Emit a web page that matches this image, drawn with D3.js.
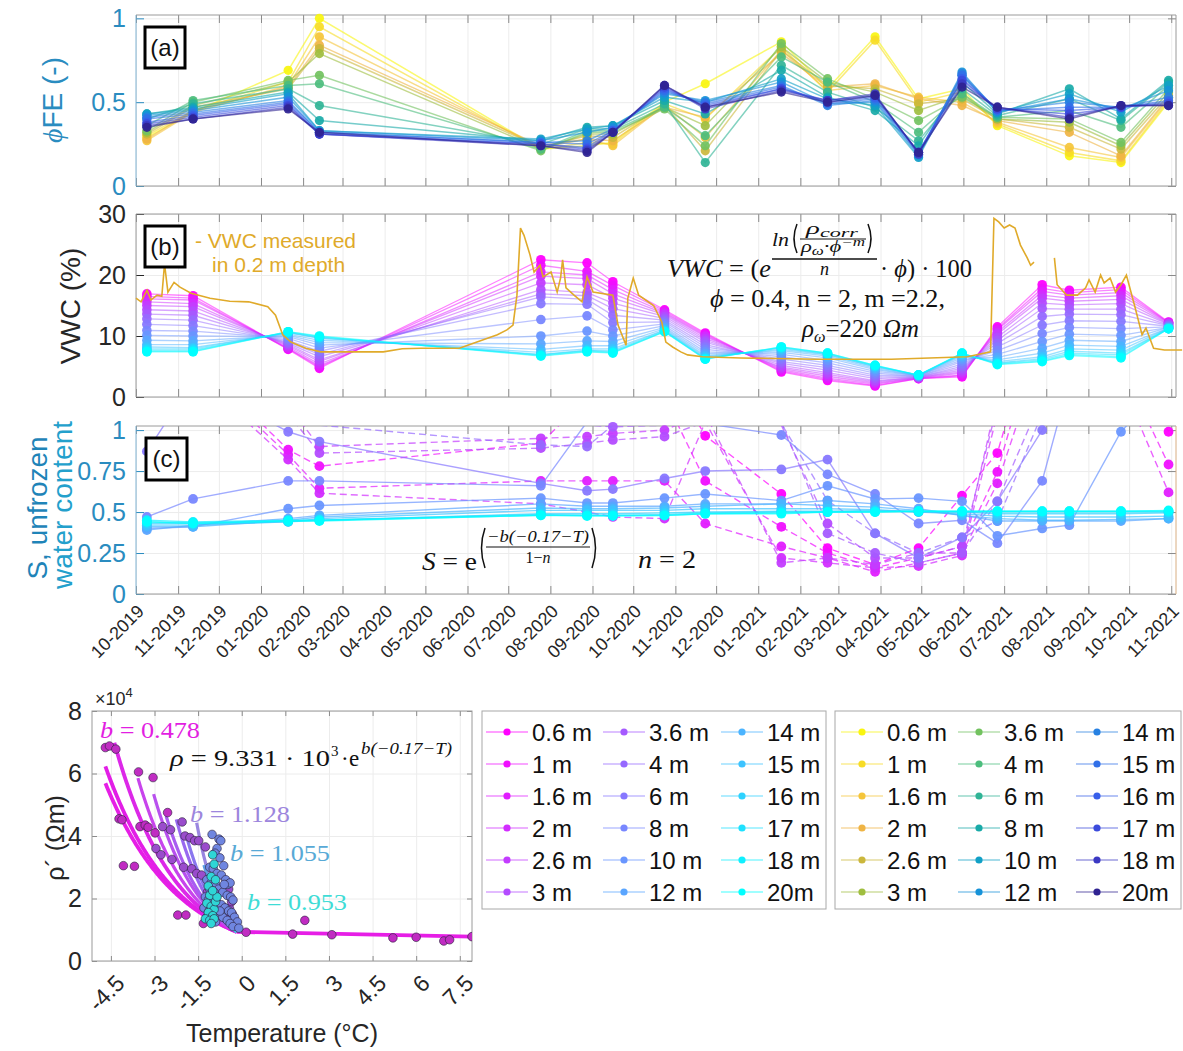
<!DOCTYPE html>
<html>
<head>
<meta charset="utf-8">
<script src="https://cdn.jsdelivr.net/npm/d3@7/dist/d3.min.js"></script>
<style>
  html, body { margin: 0; padding: 0; background: #ffffff; }
  svg { display: block; }
</style>
</head>
<body>
<svg id="figure" width="1183" height="1051"></svg>
<script>
// ---------------- depths and colour tables ----------------
const depthLabels = ['0.6 m','1 m','1.6 m','2 m','2.6 m','3 m','3.6 m','4 m','6 m','8 m','10 m','12 m','14 m','15 m','16 m','17 m','18 m','20m'];
const parulaColors = ['#f9f50f','#f7dc25','#f5c53a','#efb444','#cbb73c','#9fbe3f','#72c25f','#4cbd7d','#30b496','#19aaa8','#11a0c6','#1692d8','#2781e2','#3170e8','#385fea','#3b4bdc','#3b39c3','#2f2391'];
const coolColors = depthLabels.map((_, i) => {
  const t = 1 - i / (depthLabels.length - 1);
  return d3.rgb(255 * t, 255 * (1 - t), 255).formatHex();
});

// ---------------- survey dates ----------------
const surveyDates = ['2019-10-09','2019-11-12','2020-01-21','2020-02-13','2020-07-25','2020-08-28','2020-09-16','2020-10-24','2020-11-23','2021-01-18','2021-02-21','2021-03-28','2021-04-29','2021-05-31','2021-06-26','2021-07-29','2021-08-18','2021-09-25','2021-10-30'];
const phiDates = ['2019-10-09','2019-11-12','2020-01-21','2020-02-13','2020-07-25','2020-08-28','2020-09-16','2020-10-24','2020-11-23','2021-01-18','2021-02-21','2021-03-28','2021-04-29','2021-05-31','2021-06-26','2021-08-18','2021-09-25','2021-10-30'];
const monthTickLabels = ['10-2019','11-2019','12-2019','01-2020','02-2020','03-2020','04-2020','05-2020','06-2020','07-2020','08-2020','09-2020','10-2020','11-2020','12-2020','01-2021','02-2021','03-2021','04-2021','05-2021','06-2021','07-2021','08-2021','09-2021','10-2021','11-2021'];

// (a) formation factor porosity, one row per survey, one column per depth
const phiFEBySurvey = [
  [0.29,0.30,0.27,0.28,0.31,0.32,0.33,0.36,0.40,0.43,0.43,0.42,0.41,0.40,0.38,0.37,0.36,0.35],
  [0.44,0.45,0.44,0.45,0.47,0.48,0.50,0.51,0.49,0.47,0.46,0.45,0.44,0.43,0.42,0.41,0.40,0.40],
  [0.69,0.62,0.60,0.59,0.58,0.62,0.63,0.60,0.58,0.56,0.55,0.53,0.51,0.50,0.49,0.48,0.47,0.46],
  [1.00,0.95,0.89,0.84,0.82,0.79,0.66,0.61,0.48,0.39,0.33,0.33,0.32,0.32,0.31,0.31,0.31,0.32],
  [0.22,0.22,0.23,0.24,0.23,0.22,0.21,0.22,0.25,0.27,0.28,0.27,0.26,0.26,0.25,0.25,0.24,0.24],
  [0.24,0.26,0.28,0.28,0.30,0.31,0.32,0.33,0.34,0.35,0.34,0.32,0.27,0.25,0.23,0.22,0.21,0.20],
  [0.26,0.25,0.24,0.27,0.29,0.31,0.32,0.33,0.34,0.36,0.36,0.35,0.34,0.33,0.33,0.32,0.32,0.32],
  [0.50,0.49,0.48,0.47,0.48,0.47,0.46,0.47,0.49,0.51,0.53,0.55,0.56,0.57,0.58,0.59,0.60,0.60],
  [0.61,0.40,0.29,0.41,0.21,0.36,0.24,0.30,0.14,0.43,0.50,0.51,0.50,0.49,0.48,0.47,0.46,0.47],
  [0.86,0.83,0.81,0.79,0.81,0.83,0.85,0.77,0.72,0.69,0.64,0.62,0.60,0.59,0.58,0.58,0.57,0.56],
  [0.58,0.56,0.57,0.59,0.60,0.62,0.64,0.62,0.56,0.53,0.52,0.49,0.48,0.49,0.50,0.51,0.51,0.50],
  [0.89,0.87,0.60,0.61,0.58,0.56,0.52,0.50,0.47,0.45,0.48,0.50,0.51,0.52,0.53,0.54,0.55,0.54],
  [0.52,0.50,0.53,0.52,0.49,0.45,0.39,0.32,0.27,0.24,0.17,0.18,0.19,0.20,0.20,0.20,0.19,0.20],
  [0.58,0.56,0.50,0.48,0.52,0.54,0.53,0.55,0.58,0.62,0.66,0.68,0.67,0.66,0.64,0.63,0.61,0.59],
  [0.36,0.37,0.38,0.39,0.40,0.40,0.41,0.41,0.42,0.43,0.44,0.44,0.45,0.45,0.46,0.46,0.47,0.47],
  [0.18,0.20,0.23,0.32,0.35,0.38,0.40,0.45,0.52,0.58,0.55,0.52,0.50,0.47,0.45,0.43,0.41,0.40],
  [0.14,0.15,0.17,0.18,0.22,0.24,0.26,0.35,0.39,0.40,0.44,0.46,0.47,0.47,0.47,0.47,0.48,0.48],
  [0.50,0.51,0.52,0.53,0.54,0.56,0.58,0.60,0.62,0.63,0.60,0.57,0.53,0.51,0.50,0.49,0.48,0.48]
];

// (b) modelled VWC in %, one row per survey, one column per depth
const vwcBySurvey = [
  [16.9,16.5,16.1,15.6,15.0,14.3,13.6,12.8,11.9,10.9,10.1,9.3,8.6,8.2,7.9,7.7,7.5,7.4],
  [16.6,16.2,15.9,15.3,14.8,14.1,13.4,12.6,11.7,10.8,10.0,9.2,8.6,8.1,7.9,7.7,7.5,7.4],
  [7.8,7.9,8.0,8.2,8.4,8.6,8.8,9.0,9.3,9.6,9.9,10.1,10.3,10.5,10.6,10.6,10.7,10.7],
  [4.7,4.9,5.1,5.4,5.8,6.1,6.6,7.0,7.5,8.0,8.5,8.9,9.3,9.6,9.7,9.8,9.9,10.0],
  [22.5,21.6,20.5,19.8,18.7,17.6,16.9,16.4,15.3,12.7,10.0,8.7,7.8,7.3,7.0,6.9,6.8,6.7],
  [22.0,20.6,20.0,19.4,18.4,17.1,16.6,16.0,15.2,13.3,10.8,9.2,8.4,7.9,7.7,7.6,7.5,7.4],
  [18.9,18.3,17.6,16.9,16.2,15.4,14.5,13.4,12.2,11.0,10.0,9.1,8.4,7.9,7.6,7.4,7.3,7.2],
  [14.3,14.1,13.9,13.7,13.5,13.2,12.9,12.6,12.3,12.0,11.7,11.4,11.2,11.0,10.9,10.8,10.7,10.7],
  [10.5,10.3,10.1,9.9,9.6,9.3,9.0,8.6,8.2,7.8,7.4,7.1,6.8,6.6,6.4,6.3,6.2,6.2],
  [4.1,4.3,4.5,4.7,4.9,5.2,5.5,5.8,6.2,6.6,7.0,7.3,7.6,7.8,8.0,8.1,8.2,8.2],
  [2.7,2.9,3.1,3.4,3.7,4.0,4.4,4.8,5.2,5.6,6.0,6.4,6.7,6.9,7.0,7.1,7.2,7.2],
  [1.8,1.9,2.1,2.3,2.5,2.7,3.0,3.3,3.6,3.9,4.2,4.5,4.7,4.9,5.0,5.1,5.2,5.2],
  [3.0,3.0,3.1,3.1,3.2,3.2,3.3,3.3,3.4,3.4,3.5,3.5,3.5,3.6,3.6,3.6,3.6,3.6],
  [3.3,3.5,3.6,3.9,4.1,4.4,4.7,5.0,5.4,5.8,6.1,6.4,6.7,6.9,7.0,7.1,7.2,7.2],
  [11.5,11.2,11.0,10.6,10.3,9.8,9.3,8.8,8.2,7.6,7.0,6.5,6.1,5.8,5.6,5.5,5.4,5.3],
  [18.4,17.8,17.3,16.7,16.2,15.4,14.5,13.2,11.8,10.4,9.1,8.0,7.2,6.6,6.3,6.1,5.9,5.8],
  [17.5,17.1,16.7,16.2,15.7,15.1,14.4,13.6,12.5,11.4,10.3,9.3,8.5,7.9,7.5,7.2,7.0,6.8],
  [18.0,17.6,17.1,16.6,16.0,15.3,14.4,13.5,12.4,11.2,10.1,9.1,8.3,7.7,7.2,6.9,6.6,6.4],
  [12.3,12.2,12.2,12.1,12.0,11.9,11.8,11.7,11.6,11.5,11.4,11.4,11.3,11.3,11.2,11.2,11.2,11.2]
];

// (b) VWC sensor at 0.2 m: days after 2019-10-01 and reading in %
const vwcDayOffsets = [0,3.7,8.1,11,15.5,19,21,23.5,28,32.4,40.5,54.5,69,83,97,102.7,108,114,119.6,125,136,153,182,196,210,238,266,273,277.5,280.4,283,285.6,290,293,297.4,299.6,305.5,310,312.5,314,316.5,322.4,328.3,332,336.4,351,354.8,360.7,362,366,370,381,387,390,395,401,406,417,445,501,556,612,629,631.5,635,639,643,647,651,656,658.5,661,668,676,678,685,693,699,701.5,706,710,712.6,717,721,725,729,735,740.5,743.4,749,757,770];
const vwcMeasured = [16.2,15.6,17.5,15.9,16.7,16.5,21.8,17.2,18.8,18.0,17.0,16.2,15.7,15.6,14.8,13.4,10.2,9.0,8.5,8.0,7.4,7.4,7.4,7.9,8.0,8.0,10.2,11.0,11.8,16.7,27.7,26.5,23.3,20.5,21.6,19.7,20.5,17.2,19.5,22.5,17.9,16.7,15.6,19.7,17.2,16.7,11.8,8.5,16.2,19.5,16.7,15.0,12.3,9.0,8.2,7.4,6.9,6.6,6.4,6.2,6.2,6.6,7.4,29.3,28.7,27.7,28.2,27.7,24.9,22.8,21.6,22.1,null,22.8,18.4,16.7,16.7,17.9,19.2,17.2,20.0,18.7,19.5,17.2,18.4,20.0,15.0,10.2,11.3,8.0,7.7,7.7];

// (c) unfrozen water content S, one row per depth, one column per survey
const unfrozenByDepth = [
  [1.6,1.5,1.3,1.2,1.4,1.5,1.5,1.4,0.965,0.61,0.28,0.18,0.28,0.60,0.86,1.8,1.7,1.5,0.99],
  [1.5,1.45,0.88,0.78,0.92,1.2,1.3,1.2,0.69,0.41,0.25,0.16,0.22,0.29,0.745,1.7,1.6,1.4,0.79],
  [1.45,1.4,0.85,0.645,0.69,0.69,0.69,0.69,0.43,0.29,0.22,0.135,0.19,0.25,0.675,1.5,1.4,1.3,0.62],
  [1.4,1.35,0.82,0.615,0.55,0.50,0.47,0.46,1.05,0.22,0.19,0.16,0.17,0.235,1.1,1.4,1.3,1.2,1.1],
  [1.35,1.3,1.15,0.90,0.95,0.96,0.98,1.0,1.1,0.19,0.22,0.18,0.25,0.25,1.2,1.3,1.25,1.15,1.05],
  [1.3,1.25,1.1,0.86,0.89,0.92,0.94,0.96,1.05,1.03,0.43,0.22,0.22,0.29,1.15,1.25,1.2,1.1,1.04],
  [1.25,1.2,1.06,1.05,1.03,1.03,1.02,1.03,1.04,1.05,0.37,0.25,0.19,0.25,0.565,1.2,1.15,1.1,1.05],
  [1.2,1.15,1.04,1.03,0.91,0.90,1.03,1.03,1.04,1.04,0.57,0.37,0.25,0.345,0.445,1.1,1.1,1.05,1.03],
  [0.87,1.3,0.99,0.93,0.675,0.63,0.64,0.705,0.75,0.76,0.82,0.37,0.22,0.345,0.565,1.0,1.3,1.5,1.6],
  [0.47,0.58,0.69,0.69,0.66,1.05,1.1,1.08,1.04,0.97,0.73,0.61,0.43,0.45,0.31,0.69,1.3,1.5,1.5],
  [0.40,0.41,0.52,0.54,0.585,0.555,0.555,0.585,0.61,0.57,0.66,0.58,0.585,0.565,0.355,0.40,0.42,0.99,1.3],
  [0.39,0.42,0.46,0.48,0.55,0.535,0.535,0.535,0.55,0.55,0.57,0.55,0.52,0.48,0.445,0.445,0.445,0.445,0.46],
  [0.41,0.41,0.45,0.47,0.525,0.52,0.52,0.525,0.535,0.55,0.54,0.53,0.51,0.48,0.46,0.45,0.45,0.455,0.46],
  [0.42,0.42,0.44,0.46,0.51,0.51,0.51,0.51,0.52,0.52,0.52,0.515,0.50,0.49,0.475,0.47,0.47,0.47,0.475],
  [0.43,0.43,0.44,0.45,0.49,0.49,0.49,0.495,0.50,0.505,0.505,0.51,0.50,0.50,0.49,0.49,0.49,0.49,0.495],
  [0.44,0.435,0.445,0.45,0.485,0.48,0.48,0.485,0.495,0.50,0.50,0.505,0.505,0.50,0.50,0.50,0.50,0.50,0.50],
  [0.45,0.44,0.45,0.45,0.48,0.48,0.48,0.48,0.49,0.495,0.50,0.50,0.505,0.505,0.505,0.505,0.505,0.505,0.505],
  [0.44,0.43,0.445,0.445,0.48,0.475,0.475,0.478,0.49,0.49,0.50,0.50,0.505,0.505,0.505,0.505,0.505,0.505,0.51]
];
const dashedDepthCount = 8;

// (d) resistivity vs temperature: [T (°C), rho (x1e4 Ohm m)]
const rhoShallow = [[-4.69,6.83],[-4.55,6.88],[-4.33,6.78],[-4.22,4.55],[-4.12,4.52],[-4.07,3.05],[-3.69,3.03],[-3.55,6.05],[-3.5,4.3],[-3.32,4.35],[-3.22,4.28],[-3.05,5.87],[-2.98,4.1],[-2.55,4.75],[-2.2,1.47],[-1.92,1.47],[-1.32,1.2],[0.15,0.92],[1.75,0.86],[2.17,1.3],[3.1,0.84],[5.2,0.74],[6.0,0.76],[6.95,0.64],[7.15,0.68],[7.92,0.78]];
const rhoMid = [[-2.95,3.6],[-2.78,3.4],[-2.72,4.3],[-2.45,4.2],[-2.4,3.25],[-2.05,4.45],[-2.0,3.0],[-1.95,4.0],[-1.78,3.95],[-1.62,3.85],[-1.48,3.85],[-1.72,2.95],[-1.55,2.8],[-1.38,2.75],[-1.25,3.65],[-1.18,2.2],[-0.62,1.72],[-0.42,1.68],[-0.32,1.5],[-0.55,1.35],[-0.45,2.3],[-0.35,1.9],[-0.2,1.15],[-1.05,1.7]];
const rhoDeep = [[-1.02,4.05],[-0.78,3.9],[-0.72,3.85],[-0.85,3.6],[-0.92,3.45],[-0.75,3.3],[-0.62,3.05],[-1.1,3.0],[-0.98,2.95],[-0.85,2.8],[-0.7,2.75],[-0.55,2.6],[-0.48,2.45],[-0.4,2.5],[-1.2,2.6],[-1.05,2.5],[-0.9,2.45],[-0.8,2.3],[-0.65,2.2],[-0.5,2.1],[-0.38,2.05],[-0.3,1.95],[-1.25,2.05],[-1.15,1.95],[-1.0,1.9],[-0.85,1.85],[-0.7,1.8],[-0.58,1.7],[-0.45,1.6],[-0.35,1.55],[-0.25,1.4],[-0.15,1.25],[-1.3,1.7],[-1.12,1.6],[-0.95,1.55],[-0.8,1.5],[-0.65,1.4],[-0.5,1.3],[-0.4,1.2],[-0.3,1.1],[-0.1,1.05],[-1.2,1.4],[-1.05,1.3],[-0.9,1.25],[-0.75,1.6],[-0.6,2.45],[-0.95,2.2],[-1.1,2.3]];
const rhoDeepest = [[-1.0,3.4],[-0.95,3.1],[-1.05,2.7],[-1.15,2.4],[-1.1,2.1],[-1.2,1.85],[-1.05,1.75],[-0.95,1.65],[-1.15,1.55],[-1.0,1.45],[-1.25,1.35],[-1.1,1.3],[-0.95,1.35],[-1.05,1.2],[-0.9,1.9],[-0.85,2.05],[-1.0,2.25],[-0.9,2.6]];

// exponential fits rho = 9.331e3 * exp(b(-0.17 - T)), fitted below -0.17 °C
const fitRho0 = 0.9331;          // x1e4 Ohm m
const fitB = [0.40,0.42,0.478,0.54,0.61,0.66,0.76,0.84,1.128,1.055,1.0,0.953];
const fitTmin = [-4.69,-4.69,-4.38,-3.57,-3.03,-2.6,-2.25,-1.9,-1.55,-1.3,-1.15,-1.05];
const warmBranch = [[-0.17,0.933],[7.92,0.78]];
const tempTicks = [-4.5,-3,-1.5,0,1.5,3,4.5,6,7.5];
const rhoTicks = [0,2,4,6,8];

// ---------------- styling ----------------
const SANS = 'Arial, "Liberation Sans", Helvetica, sans-serif';
const SERIF = '"Liberation Serif", "DejaVu Serif", "Times New Roman", serif';
const INK = '#262626';
const AXIS_GRAY = '#9a9a9a';
const GRID = '#ececec';
const BLUE_LABEL = '#2a8cc0';
const GOLD = '#e0aa2a';
const fitColors = ['#e61ee6','#e21ee6','#dc28e8','#c844ec','#b850ee','#a85cf0','#9868f0','#8a76ee','#9a86e0','#5e9ee6','#45c4ea','#34e0e0'];

const svg = d3.select('#figure');
const defs = svg.append('defs');

// ---------------- time axis shared by panels a-c ----------------
const parseDay = d3.utcParse('%Y-%m-%d');
const parseMonth = d3.utcParse('%m-%Y');
const tStart = parseDay('2019-10-01');
const tEnd = new Date(Date.UTC(2021, 10, 4, 12));
const x = d3.scaleUtc().domain([tStart, tEnd]).range([136, 1176]);
const monthTicks = monthTickLabels.map(parseMonth);
const dayMs = 864e5;

const panelA = { top: 15, bottom: 186, y: d3.scaleLinear().domain([0, 1.02]).range([186, 15]) };
const panelB = { top: 214, bottom: 397, y: d3.scaleLinear().domain([0, 30]).range([397, 214]) };
const panelC = { top: 426, bottom: 594, y: d3.scaleLinear().domain([0, 1.025]).range([594, 426]) };

function cleanAxis(sel, lineColor) {
  sel.select('.domain').remove();
  sel.selectAll('.tick line').attr('stroke', lineColor);
}

function timePanel(p, yTicks, labelColor, clipId, rightColor) {
  const g = svg.append('g');
  g.append('g').attr('transform', `translate(0,${p.bottom})`)
    .call(d3.axisBottom(x).tickValues(monthTicks).tickSize(-(p.bottom - p.top)).tickFormat(''))
    .call(s => cleanAxis(s, GRID));
  g.append('g').attr('transform', 'translate(136,0)')
    .call(d3.axisLeft(p.y).tickValues(yTicks).tickSize(-1040).tickFormat(''))
    .call(s => cleanAxis(s, GRID));
  g.append('g').attr('transform', `translate(0,${p.bottom})`)
    .call(d3.axisBottom(x).tickValues(monthTicks).tickSize(-8).tickFormat(''))
    .call(s => cleanAxis(s, '#8a8a8a'));
  g.append('g').attr('transform', `translate(0,${p.top})`)
    .call(d3.axisTop(x).tickValues(monthTicks).tickSize(-8).tickFormat(''))
    .call(s => cleanAxis(s, '#8a8a8a'));
  const yl = g.append('g').attr('transform', 'translate(136,0)')
    .call(d3.axisLeft(p.y).tickValues(yTicks).tickSize(-8).tickPadding(10).tickFormat(d => String(d)));
  cleanAxis(yl, labelColor);
  yl.selectAll('.tick text').attr('fill', labelColor).attr('font-family', SANS).attr('font-size', 25);
  g.append('g').attr('transform', 'translate(1176,0)')
    .call(d3.axisRight(p.y).tickValues(yTicks).tickSize(-8).tickFormat(''))
    .call(s => cleanAxis(s, '#8a8a8a'));
  g.append('line').attr('x1', 136).attr('x2', 1176).attr('y1', p.top).attr('y2', p.top).attr('stroke', AXIS_GRAY);
  g.append('line').attr('x1', 136).attr('x2', 1176).attr('y1', p.bottom).attr('y2', p.bottom).attr('stroke', AXIS_GRAY);
  g.append('line').attr('x1', 136).attr('x2', 136).attr('y1', p.top).attr('y2', p.bottom).attr('stroke', labelColor === INK ? AXIS_GRAY : '#7fb2d2');
  g.append('line').attr('x1', 1176).attr('x2', 1176).attr('y1', p.top).attr('y2', p.bottom).attr('stroke', rightColor || AXIS_GRAY);
  defs.append('clipPath').attr('id', clipId).append('rect')
    .attr('x', 136).attr('y', p.top).attr('width', 1040).attr('height', p.bottom - p.top);
  return g;
}

function panelTag(label, bx, by, bw, bh) {
  svg.append('rect').attr('x', bx).attr('y', by).attr('width', bw).attr('height', bh)
    .attr('fill', '#fff').attr('stroke', '#000').attr('stroke-width', 3);
  svg.append('text').attr('x', bx + bw / 2).attr('y', by + bh / 2).attr('dy', '0.35em')
    .attr('text-anchor', 'middle').attr('font-family', SANS).attr('font-size', 24).attr('fill', '#111').text(label);
}

function depthSeries(p, dates, valueAt, colors, clipId, opts) {
  const layer = svg.append('g');
  const line = d3.line().x(d => x(d[0])).y(d => p.y(d[1]));
  const [lo, hi] = p.y.domain();
  depthLabels.forEach((_, i) => {
    const pts = dates.map((ds, j) => [parseDay(ds), valueAt(i, j)]);
    layer.append('path').attr('d', line(pts)).attr('fill', 'none')
      .attr('clip-path', `url(#${clipId})`)
      .attr('stroke', colors[i]).attr('stroke-opacity', opts.lineOpacity)
      .attr('stroke-width', opts.lineWidth)
      .attr('stroke-dasharray', opts.dashed && opts.dashed(i) ? '7,4' : null);
    layer.selectAll(null).data(pts.filter(d => d[1] >= lo && d[1] <= hi)).join('circle')
      .attr('cx', d => x(d[0])).attr('cy', d => p.y(d[1])).attr('r', opts.r)
      .attr('fill', colors[i]).attr('fill-opacity', opts.markerOpacity);
  });
  return layer;
}

// bracket drawn as a curved stroke (used for the tall parentheses in formulas)
function paren(g, xEdge, y0, y1, bulge) {
  const mid = (y0 + y1) / 2;
  g.append('path').attr('d', `M${xEdge},${y0} Q${xEdge - bulge},${mid} ${xEdge},${y1}`)
    .attr('fill', 'none').attr('stroke', '#111').attr('stroke-width', 1.5);
}

// ---------------- panel (a) ----------------
timePanel(panelA, [0, 0.5, 1], BLUE_LABEL, 'clipA');
depthSeries(panelA, phiDates, (i, j) => phiFEBySurvey[j][i], parulaColors, 'clipA',
  { lineOpacity: 0.6, lineWidth: 1.5, r: 4.6, markerOpacity: 0.92 });
panelTag('(a)', 145, 27, 40, 41);
svg.append('text')
  .attr('transform', 'translate(62,100) rotate(-90)')
  .attr('text-anchor', 'middle').attr('font-family', SANS).attr('font-size', 28).attr('fill', BLUE_LABEL)
  .call(t => {
    t.append('tspan').attr('font-family', SERIF).attr('font-style', 'italic').text('ϕ');
    t.append('tspan').text('FE (-)');
  });

// ---------------- panel (b) ----------------
timePanel(panelB, [0, 10, 20, 30], INK, 'clipB');
depthSeries(panelB, surveyDates, (i, j) => vwcBySurvey[j][i], coolColors, 'clipB',
  { lineOpacity: 0.5, lineWidth: 1.3, r: 4.8, markerOpacity: 0.95 });
{
  const pts = vwcDayOffsets.map((d, k) => [new Date(tStart.getTime() + d * dayMs), vwcMeasured[k]]);
  svg.append('path')
    .attr('d', d3.line().defined(d => d[1] != null).x(d => x(d[0])).y(d => panelB.y(d[1]))(pts))
    .attr('fill', 'none').attr('stroke', GOLD).attr('stroke-width', 1.6);
}
panelTag('(b)', 145, 226, 40, 41);
svg.append('text').attr('x', 195).attr('y', 248).attr('font-family', SANS).attr('font-size', 21)
  .attr('fill', GOLD).text('- VWC measured');
svg.append('text').attr('x', 212).attr('y', 272).attr('font-family', SANS).attr('font-size', 21)
  .attr('fill', GOLD).text('in 0.2 m depth');
svg.append('text')
  .attr('transform', 'translate(80,306) rotate(-90)')
  .attr('text-anchor', 'middle').attr('font-family', SANS).attr('font-size', 28).attr('fill', INK)
  .text('VWC (%)');

// Archie-type relation written inside panel (b)
{
  const f = svg.append('g').attr('font-family', SERIF).attr('fill', '#111');
  f.append('text').attr('x', 667).attr('y', 277).attr('font-size', 26)
    .attr('textLength', 104).attr('lengthAdjust', 'spacingAndGlyphs')
    .call(t => {
      t.append('tspan').attr('font-style', 'italic').text('VWC');
      t.append('tspan').text(' = (');
      t.append('tspan').attr('font-style', 'italic').text('e');
    });
  f.append('text').attr('x', 772).attr('y', 246).attr('font-size', 19).attr('font-style', 'italic')
    .attr('textLength', 17).attr('lengthAdjust', 'spacingAndGlyphs').text('ln');
  paren(f, 797, 224, 253, 6);
  paren(f, 868, 224, 253, -6);
  f.append('text').attr('x', 806).attr('y', 234).attr('font-size', 17).attr('font-style', 'italic')
    .attr('textLength', 52).attr('lengthAdjust', 'spacingAndGlyphs')
    .call(t => {
      t.append('tspan').text('ρ');
      t.append('tspan').attr('font-size', 13).attr('dy', 3).text('corr');
    });
  f.append('line').attr('x1', 800).attr('x2', 866).attr('y1', 239).attr('y2', 239).attr('stroke', '#111').attr('stroke-width', 1);
  f.append('text').attr('x', 801).attr('y', 252).attr('font-size', 16).attr('font-style', 'italic')
    .attr('textLength', 64).attr('lengthAdjust', 'spacingAndGlyphs')
    .call(t => {
      t.append('tspan').text('ρ');
      t.append('tspan').attr('font-size', 12).attr('dy', 3).text('ω');
      t.append('tspan').attr('dy', -3).text('·ϕ');
      t.append('tspan').attr('font-size', 12).attr('dy', -6).text('−m');
    });
  f.append('line').attr('x1', 772).attr('x2', 877).attr('y1', 259).attr('y2', 259).attr('stroke', '#111').attr('stroke-width', 1.3);
  f.append('text').attr('x', 820).attr('y', 275).attr('font-size', 18).attr('font-style', 'italic').text('n');
  f.append('text').attr('x', 880).attr('y', 277).attr('font-size', 26)
    .attr('textLength', 92).attr('lengthAdjust', 'spacingAndGlyphs')
    .call(t => {
      t.append('tspan').text('· ');
      t.append('tspan').attr('font-style', 'italic').text('ϕ');
      t.append('tspan').text(') · 100');
    });
  f.append('text').attr('x', 710).attr('y', 307).attr('font-size', 26)
    .attr('textLength', 235).attr('lengthAdjust', 'spacingAndGlyphs')
    .call(t => {
      t.append('tspan').attr('font-style', 'italic').text('ϕ');
      t.append('tspan').text(' = 0.4, n = 2, m =2.2,');
    });
  f.append('text').attr('x', 802).attr('y', 337).attr('font-size', 26)
    .attr('textLength', 117).attr('lengthAdjust', 'spacingAndGlyphs')
    .call(t => {
      t.append('tspan').attr('font-style', 'italic').text('ρ');
      t.append('tspan').attr('font-style', 'italic').attr('font-size', 17).attr('dy', 5).text('ω');
      t.append('tspan').attr('dy', -5).text('=220 ');
      t.append('tspan').attr('font-style', 'italic').text('Ωm');
    });
}

// ---------------- panel (c) ----------------
timePanel(panelC, [0, 0.25, 0.5, 0.75, 1], BLUE_LABEL, 'clipC', '#d8ae82');
depthSeries(panelC, surveyDates, (i, j) => unfrozenByDepth[i][j], coolColors, 'clipC',
  { lineOpacity: 0.7, lineWidth: 1.4, r: 4.9, markerOpacity: 0.95, dashed: i => i < dashedDepthCount });
panelTag('(c)', 146, 438, 41, 42);
svg.append('text')
  .attr('transform', 'translate(47,508) rotate(-90)')
  .attr('text-anchor', 'middle').attr('font-family', SANS).attr('font-size', 28).attr('fill', '#1f84b8')
  .text('S, unfrozen');
svg.append('text')
  .attr('transform', 'translate(72,505) rotate(-90)')
  .attr('text-anchor', 'middle').attr('font-family', SANS).attr('font-size', 28).attr('fill', '#23a0cc')
  .text('water content');
{
  const f = svg.append('g').attr('font-family', SERIF).attr('fill', '#111');
  f.append('text').attr('x', 422).attr('y', 570).attr('font-size', 26)
    .attr('textLength', 55).attr('lengthAdjust', 'spacingAndGlyphs')
    .call(t => {
      t.append('tspan').attr('font-style', 'italic').text('S');
      t.append('tspan').text(' = e');
    });
  paren(f, 485, 528, 568, 7);
  paren(f, 592, 528, 568, -7);
  f.append('text').attr('x', 487).attr('y', 542).attr('font-size', 16).attr('font-style', 'italic')
    .attr('textLength', 102).attr('lengthAdjust', 'spacingAndGlyphs').text('−b(−0.17−T)');
  f.append('line').attr('x1', 486).attr('x2', 590).attr('y1', 547).attr('y2', 547).attr('stroke', '#111').attr('stroke-width', 1.1);
  f.append('text').attr('x', 538).attr('y', 563).attr('font-size', 16).attr('text-anchor', 'middle')
    .call(t => {
      t.append('tspan').text('1−');
      t.append('tspan').attr('font-style', 'italic').text('n');
    });
  f.append('text').attr('x', 638).attr('y', 568).attr('font-size', 26)
    .attr('textLength', 58).attr('lengthAdjust', 'spacingAndGlyphs')
    .call(t => {
      t.append('tspan').attr('font-style', 'italic').text('n');
      t.append('tspan').text(' = 2');
    });
}

// month labels under panel (c)
{
  const ax = svg.append('g').attr('transform', `translate(0,${panelC.bottom})`)
    .call(d3.axisBottom(x).tickValues(monthTicks).tickSize(0).tickFormat((d, k) => monthTickLabels[k]));
  ax.select('.domain').remove();
  ax.selectAll('.tick text')
    .attr('x', 0).attr('y', 0).attr('dy', '0.35em')
    .attr('transform', 'translate(4,14) rotate(-45)')
    .attr('text-anchor', 'end').attr('font-family', SANS).attr('font-size', 18).attr('fill', INK);
}

// ---------------- panel (d): resistivity vs temperature ----------------
const xT = d3.scaleLinear().domain([-5.15, 7.92]).range([92, 472]);
const yR = d3.scaleLinear().domain([0, 8]).range([961, 711]);
{
  const g = svg.append('g');
  g.append('g').attr('transform', 'translate(0,961)')
    .call(d3.axisBottom(xT).tickValues(tempTicks).tickSize(-250).tickFormat(''))
    .call(s => cleanAxis(s, GRID));
  g.append('g').attr('transform', 'translate(92,0)')
    .call(d3.axisLeft(yR).tickValues(rhoTicks).tickSize(-380).tickFormat(''))
    .call(s => cleanAxis(s, GRID));
  g.append('g').attr('transform', 'translate(0,961)')
    .call(d3.axisBottom(xT).tickValues(tempTicks).tickSize(-5).tickFormat(''))
    .call(s => cleanAxis(s, '#8a8a8a'));
  g.append('g').attr('transform', 'translate(0,711)')
    .call(d3.axisTop(xT).tickValues(tempTicks).tickSize(-5).tickFormat(''))
    .call(s => cleanAxis(s, '#8a8a8a'));
  g.append('g').attr('transform', 'translate(472,0)')
    .call(d3.axisRight(yR).tickValues(rhoTicks).tickSize(-5).tickFormat(''))
    .call(s => cleanAxis(s, '#8a8a8a'));
  const yl = g.append('g').attr('transform', 'translate(92,0)')
    .call(d3.axisLeft(yR).tickValues(rhoTicks).tickSize(-5).tickPadding(10).tickFormat(d => String(d)));
  cleanAxis(yl, '#8a8a8a');
  yl.selectAll('.tick text').attr('fill', INK).attr('font-family', SANS).attr('font-size', 25);
  const xl = g.append('g').attr('transform', 'translate(0,961)')
    .call(d3.axisBottom(xT).tickValues(tempTicks).tickSize(0).tickFormat(d => String(d)));
  xl.select('.domain').remove();
  xl.selectAll('.tick text')
    .attr('x', 0).attr('y', 0).attr('dy', '0.35em')
    .attr('transform', 'translate(9,18) rotate(-45)')
    .attr('text-anchor', 'end').attr('font-family', SANS).attr('font-size', 23).attr('fill', INK);
  g.append('rect').attr('x', 92).attr('y', 711).attr('width', 380).attr('height', 250)
    .attr('fill', 'none').attr('stroke', AXIS_GRAY);
  defs.append('clipPath').attr('id', 'clipD').append('rect')
    .attr('x', 92).attr('y', 711).attr('width', 380).attr('height', 250);

  const lineT = d3.line().x(d => xT(d[0])).y(d => yR(d[1]));
  const marks = svg.append('g').attr('clip-path', 'url(#clipD)');
  fitB.forEach((b, k) => {
    const temps = d3.range(fitTmin[k], -0.17, 0.02).concat([-0.17]);
    const pts = temps.map(T => [T, fitRho0 * Math.exp(b * (-0.17 - T))]);
    marks.append('path').attr('d', lineT(pts)).attr('fill', 'none')
      .attr('stroke', fitColors[k]).attr('stroke-width', k < 3 ? 3.8 : 3.2);
  });
  marks.append('path').attr('d', lineT(warmBranch)).attr('fill', 'none')
    .attr('stroke', '#e61ee6').attr('stroke-width', 3.8);
  const groups = [[rhoShallow, '#c02cc2'], [rhoMid, '#9a4ccc'], [rhoDeep, '#6f86e0'], [rhoDeepest, '#2fd6d6']];
  groups.forEach(([pts, col]) => {
    marks.selectAll(null).data(pts).join('circle')
      .attr('cx', d => xT(d[0])).attr('cy', d => yR(d[1])).attr('r', 4.3)
      .attr('fill', col).attr('stroke', '#2e2240').attr('stroke-width', 0.8).attr('stroke-opacity', 0.8);
  });

  const bLabel = (x0, y0, txt, col) => svg.append('text').attr('x', x0).attr('y', y0)
    .attr('font-family', SERIF).attr('font-size', 24).attr('fill', col)
    .attr('textLength', 100).attr('lengthAdjust', 'spacingAndGlyphs')
    .call(t => {
      t.append('tspan').attr('font-style', 'italic').text('b');
      t.append('tspan').text(' = ' + txt);
    });
  bLabel(100, 738, '0.478', '#e21ee2');
  bLabel(190, 822, '1.128', '#9d86dd');
  bLabel(230, 861, '1.055', '#58a9d6');
  bLabel(247, 910, '0.953', '#3fdcd6');

  const f = svg.append('g').attr('font-family', SERIF).attr('fill', '#111');
  f.append('text').attr('x', 170).attr('y', 766).attr('font-size', 23)
    .attr('textLength', 160).attr('lengthAdjust', 'spacingAndGlyphs')
    .call(t => {
      t.append('tspan').attr('font-style', 'italic').text('ρ');
      t.append('tspan').text(' = 9.331 · 10');
    });
  f.append('text').attr('x', 331).attr('y', 756).attr('font-size', 15).text('3');
  f.append('text').attr('x', 341).attr('y', 766).attr('font-size', 23).text('·');
  f.append('text').attr('x', 349).attr('y', 766).attr('font-size', 23).text('e');
  f.append('text').attr('x', 361).attr('y', 754).attr('font-size', 16).attr('font-style', 'italic')
    .attr('textLength', 91).attr('lengthAdjust', 'spacingAndGlyphs').text('b(−0.17−T)');

  svg.append('text').attr('x', 95).attr('y', 705).attr('font-family', SANS).attr('font-size', 18).attr('fill', INK)
    .call(t => {
      t.append('tspan').text('×10');
      t.append('tspan').attr('font-size', 13).attr('dy', -8).text('4');
    });
  svg.append('text').attr('transform', 'translate(64,838) rotate(-90)')
    .attr('text-anchor', 'middle').attr('font-family', SANS).attr('font-size', 25).attr('fill', INK)
    .text('ρ´ (Ωm)');
  svg.append('text').attr('x', 282).attr('y', 1042).attr('text-anchor', 'middle')
    .attr('font-family', SANS).attr('font-size', 25).attr('fill', INK).text('Temperature (°C)');
}

// ---------------- legends ----------------
function depthLegend(x0, w, colors, colXs) {
  const g = svg.append('g');
  g.append('rect').attr('x', x0).attr('y', 711).attr('width', w).attr('height', 198)
    .attr('fill', '#fff').attr('stroke', '#a8a8a8');
  depthLabels.forEach((lab, i) => {
    const cx = colXs[Math.floor(i / 6)];
    const cy = 732 + (i % 6) * 32;
    g.append('line').attr('x1', cx).attr('x2', cx + 42).attr('y1', cy).attr('y2', cy)
      .attr('stroke', colors[i]).attr('stroke-opacity', 0.5).attr('stroke-width', 1.5);
    g.append('circle').attr('cx', cx + 21).attr('cy', cy).attr('r', 3.6).attr('fill', colors[i]);
    g.append('text').attr('x', cx + 46).attr('y', cy).attr('dy', '0.36em')
      .attr('font-family', SANS).attr('font-size', 24).attr('fill', '#111').text(lab);
  });
}
depthLegend(482, 344, coolColors, [486, 603, 721]);
depthLegend(835, 346, parulaColors, [841, 958, 1076]);
</script>
</body>
</html>
